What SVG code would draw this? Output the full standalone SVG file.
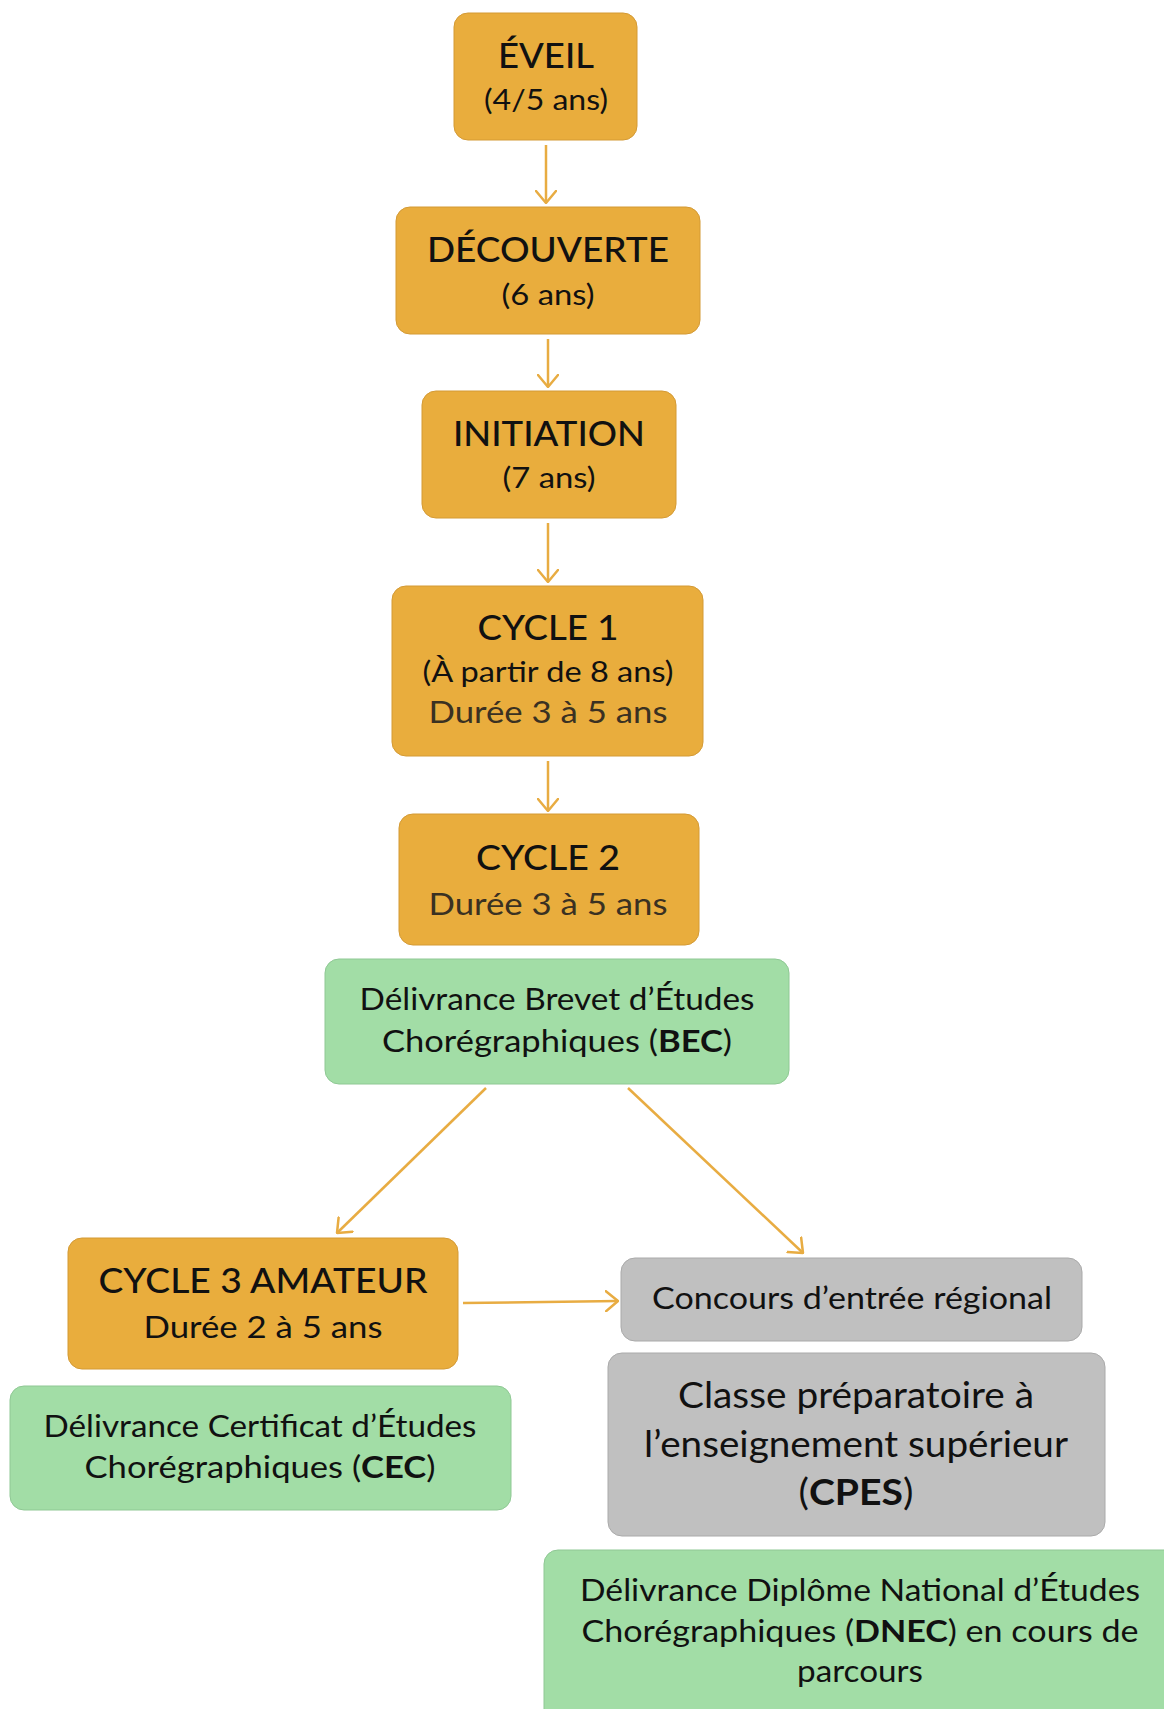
<svg xmlns="http://www.w3.org/2000/svg" width="1164" height="1709" viewBox="0 0 1164 1709">
<defs>
<style>
.o{fill:#E9AD3D;stroke:#d49a35;stroke-width:1}
.g{fill:#A2DDA6;stroke:#8fc894;stroke-width:1}
.s{fill:#C0C0C0;stroke:#aaaaaa;stroke-width:1}
text{font-family:Lato,"Noto Sans","Liberation Sans",sans-serif;text-anchor:middle;fill:#111}
.t{font-size:35px;font-weight:500}
.a{font-size:28px}
.d{font-size:31px;fill:#3a3122}
.b{font-size:30px}
.c{font-size:36px}
.k{font-weight:bold}
.e{fill:none;stroke:#E8AC42;stroke-width:2.5}
</style>
<marker id="ah" viewBox="0 0 14 22" refX="13" refY="11" markerWidth="14" markerHeight="22" markerUnits="userSpaceOnUse" orient="auto">
<path d="M1,1 L13,11 L1,21" fill="none" stroke="#E8AC42" stroke-width="2.5" stroke-linecap="round" stroke-linejoin="round"/>
</marker>
</defs>
<rect width="1164" height="1709" fill="#fff"/>
<g id="connectors">
<line class="e" x1="546" y1="145" x2="546" y2="203" marker-end="url(#ah)"/>
<line class="e" x1="548" y1="339" x2="548" y2="387" marker-end="url(#ah)"/>
<line class="e" x1="548" y1="523" x2="548" y2="582" marker-end="url(#ah)"/>
<line class="e" x1="548" y1="761" x2="548" y2="811" marker-end="url(#ah)"/>
<line class="e" x1="486" y1="1088" x2="337" y2="1233" marker-end="url(#ah)"/>
<line class="e" x1="628" y1="1088" x2="803" y2="1253" marker-end="url(#ah)"/>
<line class="e" x1="463" y1="1303" x2="618" y2="1301" marker-end="url(#ah)"/>
</g>
<g id="eveil">
<rect class="o" x="454" y="13" width="183" height="127" rx="14"/>
<text class="t" x="546" y="68" textLength="96" lengthAdjust="spacingAndGlyphs">ÉVEIL</text>
<text class="a" x="546" y="110" textLength="124" lengthAdjust="spacingAndGlyphs">(4/5 ans)</text>
</g>
<g id="decouverte">
<rect class="o" x="396" y="207" width="304" height="127" rx="14"/>
<text class="t" x="548" y="262" textLength="242" lengthAdjust="spacingAndGlyphs">DÉCOUVERTE</text>
<text class="a" x="548" y="305" textLength="93" lengthAdjust="spacingAndGlyphs">(6 ans)</text>
</g>
<g id="initiation">
<rect class="o" x="422" y="391" width="254" height="127" rx="14"/>
<text class="t" x="549" y="446" textLength="192" lengthAdjust="spacingAndGlyphs">INITIATION</text>
<text class="a" x="549" y="488" textLength="93" lengthAdjust="spacingAndGlyphs">(7 ans)</text>
</g>
<g id="cycle1">
<rect class="o" x="392" y="586" width="311" height="170" rx="14"/>
<text class="t" x="548" y="640" textLength="141" lengthAdjust="spacingAndGlyphs">CYCLE 1</text>
<text class="a" x="548" y="682" textLength="251" lengthAdjust="spacingAndGlyphs">(À partir de 8 ans)</text>
<text class="d" x="548" y="723" textLength="239" lengthAdjust="spacingAndGlyphs">Durée 3 à 5 ans</text>
</g>
<g id="cycle2">
<rect class="o" x="399" y="814" width="300" height="131" rx="14"/>
<text class="t" x="548" y="870" textLength="144" lengthAdjust="spacingAndGlyphs">CYCLE 2</text>
<text class="d" x="548" y="915" textLength="239" lengthAdjust="spacingAndGlyphs">Durée 3 à 5 ans</text>
</g>
<g id="bec">
<rect class="g" x="325" y="959" width="464" height="125" rx="14"/>
<text class="b" x="557" y="1010" textLength="395" lengthAdjust="spacingAndGlyphs">Délivrance Brevet d’Études</text>
<text class="b" x="557" y="1052" textLength="350" lengthAdjust="spacingAndGlyphs">Chorégraphiques (<tspan class="k">BEC</tspan>)</text>
</g>
<g id="cycle3">
<rect class="o" x="68" y="1238" width="390" height="131" rx="14"/>
<text class="t" x="263" y="1293" textLength="329" lengthAdjust="spacingAndGlyphs">CYCLE 3 AMATEUR</text>
<text class="b" x="263" y="1338" textLength="239" lengthAdjust="spacingAndGlyphs" style="font-size:31px">Durée 2 à 5 ans</text>
</g>
<g id="cec">
<rect class="g" x="10" y="1386" width="501" height="124" rx="14"/>
<text class="b" x="260" y="1437" textLength="433" lengthAdjust="spacingAndGlyphs">Délivrance Certificat d’Études</text>
<text class="b" x="260" y="1478" textLength="351" lengthAdjust="spacingAndGlyphs">Chorégraphiques (<tspan class="k">CEC</tspan>)</text>
</g>
<g id="concours">
<rect class="s" x="621" y="1258" width="461" height="83" rx="14"/>
<text class="b" x="852" y="1309" textLength="400" lengthAdjust="spacingAndGlyphs">Concours d’entrée régional</text>
</g>
<g id="cpes">
<rect class="s" x="608" y="1353" width="497" height="183" rx="14"/>
<text class="c" x="856" y="1408" textLength="356" lengthAdjust="spacingAndGlyphs">Classe préparatoire à</text>
<text class="c" x="856" y="1457" textLength="424" lengthAdjust="spacingAndGlyphs">l’enseignement supérieur</text>
<text class="c" x="856" y="1505" textLength="115" lengthAdjust="spacingAndGlyphs">(<tspan class="k">CPES</tspan>)</text>
</g>
<g id="dnec">
<rect class="g" x="544" y="1550" width="640" height="190" rx="14"/>
<text class="b" x="860" y="1601" textLength="560" lengthAdjust="spacingAndGlyphs">Délivrance Diplôme National d’Études</text>
<text class="b" x="860" y="1642" textLength="557" lengthAdjust="spacingAndGlyphs">Chorégraphiques (<tspan class="k">DNEC</tspan>) en cours de</text>
<text class="b" x="860" y="1682" textLength="126" lengthAdjust="spacingAndGlyphs">parcours</text>
</g>
</svg>
